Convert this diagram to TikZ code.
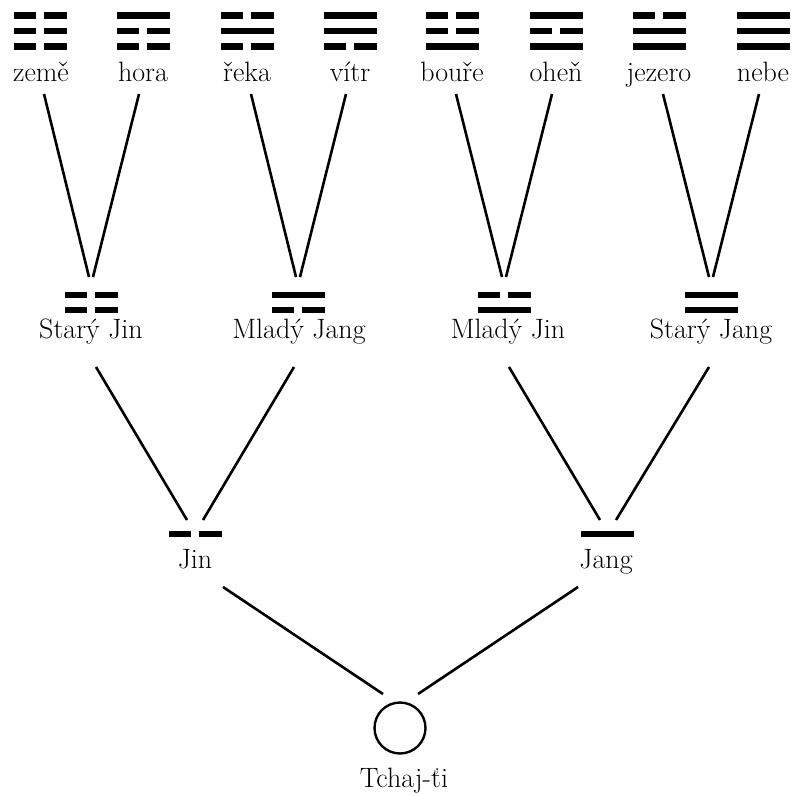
\documentclass[tikz,border=0pt]{standalone}
\usepackage{fontspec}
\usetikzlibrary{calc}
% plna a prerusena cara (x, y)
\def\yangbar(#1,#2){\fill (#1-26.5,#2-3.25) rectangle (#1+26.5,#2+3.25);}
\def\yinbar(#1,#2){\fill (#1-26.5,#2-3.25) rectangle (#1-4,#2+3.25); \fill (#1+4,#2-3.25) rectangle (#1+26.5,#2+3.25);}

\begin{document}
\begin{tikzpicture}[x=1pt, y=-1pt,
	nazev/.style={anchor=base, inner sep=0pt, font=\fontsize{28}{32}\selectfont},
	vetev/.style={line width=2.6pt}]
			%%%%% START %%%%%
			\useasboundingbox (0,0) rectangle (797,795);
			
			% trigramy
			\yinbar(40,15.5)   \yinbar(40,31)    \yinbar(40,46.5)
			\yangbar(143,15.5) \yinbar(143,31)   \yinbar(143,46.5)
			\yinbar(247,15.5)  \yangbar(247,31)  \yinbar(247,46.5)
			\yangbar(350,15.5) \yangbar(350,31)  \yinbar(350,46.5)
			\yinbar(452,15.5)  \yinbar(452,31)   \yangbar(452,46.5)
			\yangbar(556,15.5) \yinbar(556,31)   \yangbar(556,46.5)
			\yinbar(659,15.5)  \yangbar(659,31)  \yangbar(659,46.5)
			\yangbar(763,15.5) \yangbar(763,31)  \yangbar(763,46.5)
			
			\node[nazev] (zeme) at (41,81) {země};
			\node[nazev] (hora) at (143,81) {hora};
			\node[nazev] (reka) at (247,81) {řeka};
			\node[nazev] (vitr) at (350,81) {vítr};
			\node[nazev] (boure) at (452,81) {bouře};
			\node[nazev] (ohen) at (556,81) {oheň};
			\node[nazev] (jezero) at (659,81) {jezero};
			\node[nazev] (nebe) at (763,81) {nebe};
			
			% bigramy
			\coordinate (starjin) at (91,302.5);
			\coordinate (mladjang) at (298,302.5);
			\coordinate (mladjin) at (504,302.5);
			\coordinate (starjang) at (711,302.5);
			\yinbar(91,295)   \yinbar(91,310)
			\yangbar(298,295) \yinbar(298,310)
			\yinbar(504,295)  \yangbar(504,310)
			\yangbar(711,295) \yangbar(711,310)
			
			\node[nazev] (starjin-p) at (91,338) {Starý Jin};
			\node[nazev] (mladjang-p) at (299,338) {Mladý Jang};
			\node[nazev] (mladjin-p) at (508,338) {Mladý Jin};
			\node[nazev] (starjang-p) at (711,338) {Starý Jang};
			
			\draw[vetev] ($(zeme.base)+(3,13)$) -- ($(starjin)+(-2,-25.5)$);
			\draw[vetev] ($(hora.base)+(-4,13)$) -- ($(starjin)+(2,-25.5)$);
			\draw[vetev] ($(reka.base)+(4,13)$) -- ($(mladjang)+(-2,-25.5)$);
			\draw[vetev] ($(vitr.base)+(-4,13)$) -- ($(mladjang)+(2,-25.5)$);
			\draw[vetev] ($(boure.base)+(4,13)$) -- ($(mladjin)+(-2,-25.5)$);
			\draw[vetev] ($(ohen.base)+(-4,13)$) -- ($(mladjin)+(2,-25.5)$);
			\draw[vetev] ($(jezero.base)+(4,13)$) -- ($(starjang)+(-2,-25.5)$);
			\draw[vetev] ($(nebe.base)+(-4,13)$) -- ($(starjang)+(2,-25.5)$);
			
			% jin a jang
			\coordinate (jin) at (195,534);
			\coordinate (jang) at (607,534);
			\yinbar(195,534)
			\yangbar(607,534)
			
			\node[nazev] (jin-p) at (195,568) {Jin};
			\node[nazev] (jang-p) at (606,568) {Jang};
			
			\draw[vetev] ($(starjin-p.base)+(5,29)$) -- ($(jin)+(-8,-14)$);
			\draw[vetev] ($(mladjang-p.base)+(-5,29)$) -- ($(jin)+(8,-14)$);
			\draw[vetev] ($(mladjin-p.base)+(1,29)$) -- ($(jang)+(-7,-14)$);
			\draw[vetev] ($(starjang-p.base)+(-2,29)$) -- ($(jang)+(9,-14)$);
			
			% tchaj-ti
			\node[draw, circle, line width=2.4pt, minimum size=51pt, inner sep=0pt] (tchaj) at (400,728) {};
			\node[nazev] (tchaj-p) at (404,787) {Tchaj-ťi};
			
			\draw[vetev] ($(jin-p.base)+(28,19)$) -- ($(tchaj)+(-17,-34)$);
			\draw[vetev] ($(jang-p.base)+(-28,19)$) -- ($(tchaj)+(18,-34)$);
			
			%%%%% END %%%%%
		\end{tikzpicture}
\end{document}
